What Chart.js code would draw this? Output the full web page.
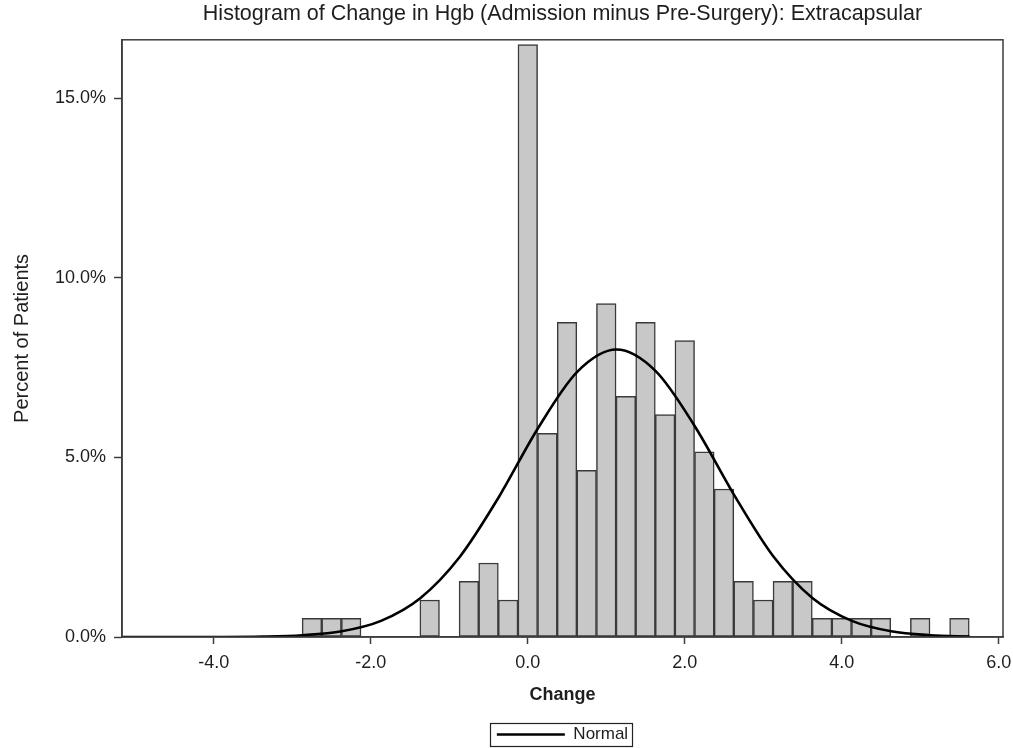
<!DOCTYPE html>
<html>
<head>
<meta charset="utf-8">
<title>Histogram of Change in Hgb</title>
<script src="https://cdn.jsdelivr.net/npm/chart.js@4.4.1/dist/chart.umd.min.js"></script>
<style>
	html, body { margin: 0; padding: 0; background: #fff; }
	#wrap { width: 1013px; height: 748px; }
</style>
</head>
<body>
<div id="wrap"><canvas id="hist_chart" width="1013" height="748"></canvas></div>
<script>
const TITLE = "Histogram of Change in Hgb (Admission minus Pre-Surgery): Extracapsular";
const X_TITLE = "Change";
const Y_TITLE = "Percent of Patients";
const LEGEND_LABEL = "Normal";

// bin midpoints (width 0.25) and percent of patients in each
const binCenters = [-2.75, -2.5, -2.25, -1.25, -0.75, -0.5, -0.25, 0.0, 0.25, 0.5, 0.75, 1.0, 1.25, 1.5, 1.75, 2.0, 2.25, 2.5, 2.75, 3.0, 3.25, 3.5, 3.75, 4.0, 4.25, 4.5, 5.0, 5.5];
const pctPatients = [0.52, 0.52, 0.52, 1.03, 1.55, 2.06, 1.03, 16.49, 5.67, 8.76, 4.64, 9.28, 6.70, 8.76, 6.19, 8.25, 5.15, 4.12, 1.55, 1.03, 1.55, 1.55, 0.52, 0.52, 0.52, 0.52, 0.52, 0.52];

// normal curve
const normalX = [-5.17, -4.87, -4.37, -3.87, -3.37, -2.87, -2.37, -1.87, -1.37, -0.87, -0.37, 0.13, 0.63, 1.13, 1.63, 2.13, 2.63, 3.13, 3.63, 4.13, 4.63, 5.13, 5.63];
const normalY = [0.00, 0.00, 0.00, 0.00, 0.01, 0.05, 0.16, 0.45, 1.08, 2.22, 3.89, 5.81, 7.38, 8.00, 7.40, 5.86, 3.95, 2.24, 1.08, 0.45, 0.16, 0.05, 0.01];

const xTicks = [-4, -2, 0, 2, 4, 6];
const yTicks = [0, 5, 10, 15];
const X_MIN = -5.17, X_MAX = 6.055;
const Y_MIN = 0, Y_MAX = 16.62;

const INK = "#1e1e1e";
const AXIS = "#3c3c3c";
const FONT = "'Liberation Sans', Arial, sans-serif";

const frameBox = {
	id: "frameBox",
	afterDraw(chart) {
		const { ctx, chartArea: a } = chart;
		ctx.save();
		ctx.strokeStyle = AXIS;
		ctx.lineWidth = 1.5;
		ctx.strokeRect(a.left, a.top, a.right - a.left, a.bottom - a.top);
		// border round the legend
		const lg = chart.legend;
		if (lg && lg.legendHitBoxes && lg.legendHitBoxes.length) {
			const hb = lg.legendHitBoxes[0];
			ctx.lineWidth = 1.2;
			ctx.strokeStyle = "#222";
			ctx.strokeRect(Math.round(hb.left - 7) + 0.5, Math.round(hb.top - 3) + 0.5, Math.round(hb.width + 11), Math.round(hb.height + 6));
		}
		ctx.restore();
	}
};

function renderHistogram() {
	const ctx = document.getElementById("hist_chart");
	const bars = binCenters.map((x, i) => ({ x: x, y: pctPatients[i] }));
	const curve = normalX.map((x, i) => ({ x: x, y: normalY[i] }));

	// eslint-disable-next-line no-undef
	new Chart(ctx, {
		type: "bar",
		data: {
			datasets: [{
				type: "line",
				label: LEGEND_LABEL,
				data: curve,
				borderColor: "#000",
				borderWidth: 2.6,
				pointRadius: 0,
				fill: false,
				cubicInterpolationMode: "monotone",
				order: 0
			}, {
				type: "bar",
				label: "Percent",
				data: bars,
				backgroundColor: "#c8c8c8",
				borderColor: "#3a3a3a",
				borderWidth: 1.5,
				borderSkipped: false,
				barPercentage: 1.0,
				categoryPercentage: 1.0,
				order: 1
			}]
		},
		options: {
			responsive: false,
			animation: false,
			devicePixelRatio: 1,
			layout: { padding: { left: 0, right: 10, top: 0, bottom: 0 } },
			plugins: {
				title: {
					display: true,
					text: TITLE,
					fullSize: false,
					color: INK,
					font: { family: FONT, size: 21.5, weight: "normal" },
					padding: { top: 1, bottom: 13 }
				},
				legend: {
					display: true,
					position: "bottom",
					fullSize: false,
					maxHeight: 28,
					labels: {
						filter: (item) => item.text === LEGEND_LABEL,
						usePointStyle: true,
						pointStyle: "line",
						pointStyleWidth: 68,
						color: INK,
						font: { family: FONT, size: 17 },
						padding: 6
					}
				},
				tooltip: { enabled: false }
			},
			scales: {
				x: {
					type: "linear",
					min: X_MIN,
					max: X_MAX,
					offset: false,
					afterFit: (scale) => {
						scale.height = 83;
						scale.paddingLeft = 0;
						scale.paddingRight = 0;
					},
					afterBuildTicks: (scale) => { scale.ticks = xTicks.map(v => ({ value: v })); },
					ticks: {
						color: INK,
						font: { family: FONT, size: 18 },
						padding: 8,
						maxRotation: 0,
						callback: (v) => Number(v).toFixed(1)
					},
					grid: { display: true, drawOnChartArea: false, drawTicks: true, tickLength: 7, tickColor: AXIS, tickWidth: 1.5, offset: false },
					border: { display: true, color: AXIS, width: 1.5 },
					title: {
						display: true,
						text: X_TITLE,
						color: INK,
						font: { family: FONT, size: 18, weight: "bold" },
						padding: { top: 0, bottom: 14 }
					}
				},
				y: {
					type: "linear",
					min: Y_MIN,
					max: Y_MAX,
					afterFit: (scale) => { scale.width = 122; },
					afterBuildTicks: (scale) => { scale.ticks = yTicks.map(v => ({ value: v })); },
					ticks: {
						color: INK,
						font: { family: FONT, size: 18 },
						padding: 8,
						callback: (v) => Number(v).toFixed(1) + "%"
					},
					grid: { display: true, drawOnChartArea: false, drawTicks: true, tickLength: 8, tickColor: AXIS, tickWidth: 1.5 },
					border: { display: true, color: AXIS, width: 1.5 },
					title: {
						display: true,
						text: Y_TITLE,
						color: INK,
						font: { family: FONT, size: 20 },
						padding: { top: 10, bottom: 0 }
					}
				}
			}
		},
		plugins: [frameBox]
	});
}

document.addEventListener("DOMContentLoaded", renderHistogram);
</script>
</body>
</html>
